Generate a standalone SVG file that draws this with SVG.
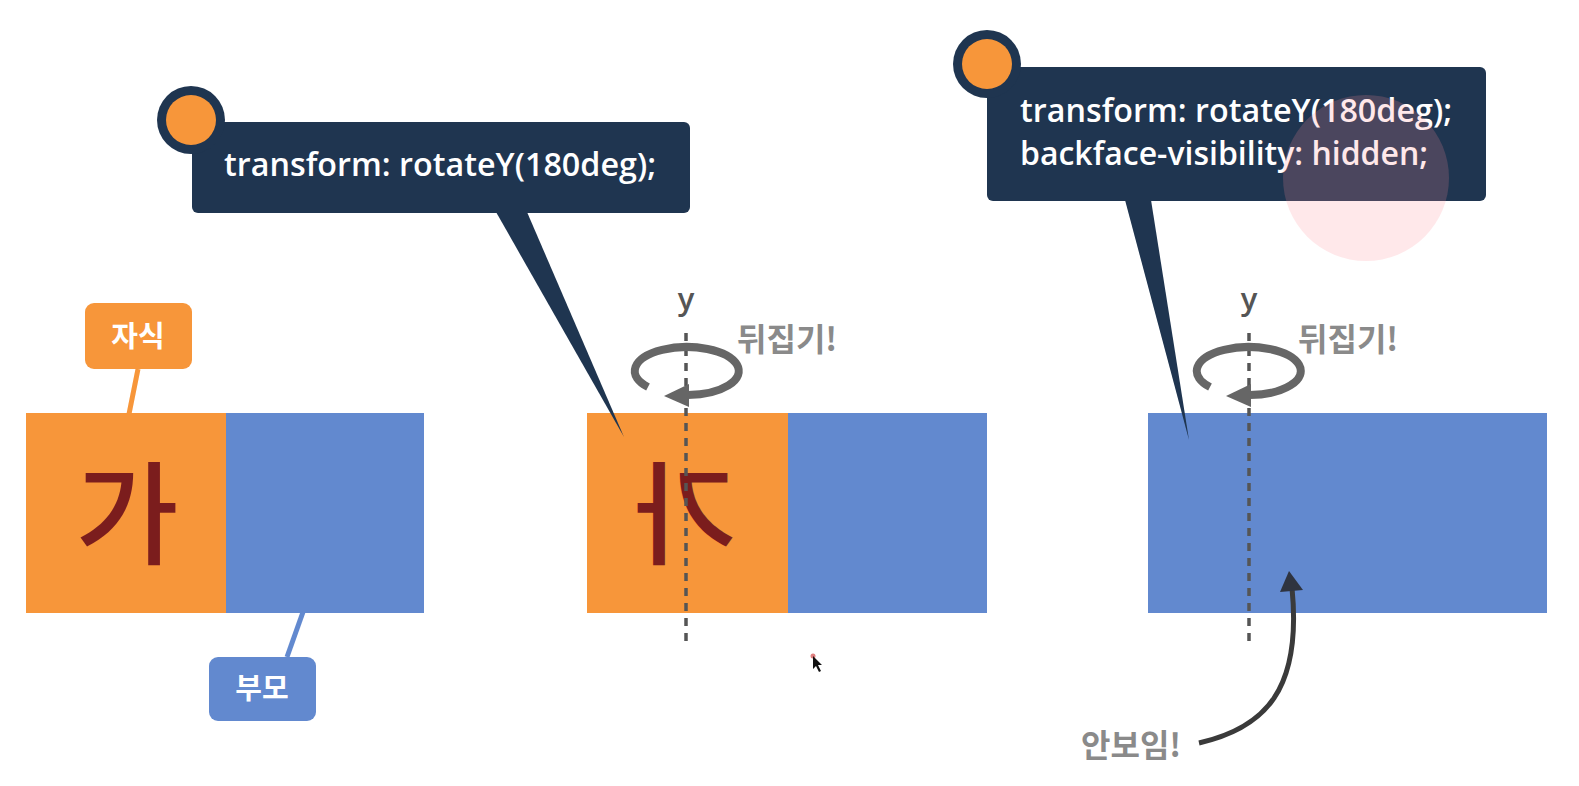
<svg xmlns="http://www.w3.org/2000/svg" width="1579" height="786" viewBox="0 0 1579 786">
<style>
.navy{fill:#1f3550}
.org{fill:#f7963a}
.blu{fill:#6289cf}
.code{font-family:"Open Sans","Noto Sans","DejaVu Sans",sans-serif;font-size:32px;font-weight:600;fill:#ffffff}
.kr{font-family:"Noto Sans CJK KR",sans-serif;font-weight:700}
.lbl{font-size:29px;fill:#ffffff;text-anchor:middle}
.flip{font-size:32px;fill:#8a8a8a}
.ga{font-size:112px;fill:#7b1d1d;text-anchor:middle;font-weight:500}
.axis{stroke:#555;stroke-width:3.5;stroke-dasharray:8 7;fill:none}
.ylab{font-family:"Open Sans","Noto Sans",sans-serif;font-size:31px;font-weight:600;fill:#555;text-anchor:middle}
.rot{fill:none;stroke:#666;stroke-width:8}
.rothead{fill:#666}
</style>
<rect width="1579" height="786" fill="#ffffff"/>

<!-- left panel -->
<g id="left-child">
  <rect x="26" y="413" width="200" height="200" class="org"/>
  <text x="127" y="556" class="kr ga">가</text>
</g>
<g id="left-parent">
  <rect x="226" y="413" width="198" height="200" class="blu"/>
</g>
<g id="label-child">
  <rect x="85" y="303" width="107" height="66" rx="9" class="org"/>
  <text x="138" y="347" class="kr lbl">자식</text>
</g>
<g id="label-parent">
  <rect x="209" y="657" width="107" height="64" rx="9" class="blu"/>
  <text x="262" y="699" class="kr lbl">부모</text>
</g>

<!-- middle panel -->
<g id="mid-child">
  <rect x="587" y="413" width="201" height="200" class="org"/>
  <text x="686" y="556" class="kr ga" transform="translate(1372 0) scale(-1 1)">가</text>
</g>
<g id="mid-parent">
  <rect x="788" y="413" width="199" height="200" class="blu"/>
</g>

<!-- right panel -->
<g id="right-parent">
  <rect x="1148" y="413" width="399" height="200" class="blu"/>
</g>

<!-- callouts -->
<g id="callout-left">
  <polygon points="496,212 527,212 624,437" class="navy"/>
  <rect x="192" y="122" width="498" height="91" rx="6" class="navy"/>
  <circle cx="191" cy="120" r="34" class="navy"/>
  <circle cx="191" cy="120" r="25" class="org"/>
  <text x="224" y="176" class="code" textLength="432" lengthAdjust="spacingAndGlyphs">transform: rotateY(180deg);</text>
</g>
<g id="callout-right">
  <polygon points="1125,200 1151,200 1189,440" class="navy"/>
  <rect x="987" y="67" width="499" height="134" rx="6" class="navy"/>
  <circle cx="987" cy="64" r="34" class="navy"/>
  <circle cx="987" cy="64" r="25" class="org"/>
  <text x="1020" y="122" class="code" textLength="432" lengthAdjust="spacingAndGlyphs">transform: rotateY(180deg);</text>
  <text x="1020" y="165" class="code" textLength="408" lengthAdjust="spacingAndGlyphs">backface-visibility: hidden;</text>
</g>
<circle id="click-highlight" cx="1366" cy="178" r="83" fill="#ff8a98" fill-opacity="0.2"/>

<!-- connectors -->
<g id="connectors">
  <line x1="138" y1="369" x2="129" y2="414" stroke="#f7963a" stroke-width="5"/>
  <line x1="287" y1="657" x2="303" y2="612" stroke="#6289cf" stroke-width="5"/>

  <line x1="686" y1="333" x2="686" y2="643" class="axis"/>
  <text x="686" y="310" class="ylab">y</text>
  <path d="M648,387 A52,24 0 1 1 688,395" class="rot"/>
  <polygon points="664,396 689,384 689,407" class="rothead"/>
  <text x="737" y="351" class="kr flip">뒤집기!</text>

  <line x1="1249" y1="333" x2="1249" y2="643" class="axis"/>
  <text x="1249" y="310" class="ylab">y</text>
  <path d="M1210,387 A52,24 0 1 1 1250,395" class="rot"/>
  <polygon points="1226,396 1251,384 1251,407" class="rothead"/>
  <text x="1298" y="351" class="kr flip">뒤집기!</text>

  <path d="M1199,743 C1265,728 1302,690 1292,588" fill="none" stroke="#3a3a3a" stroke-width="5"/>
  <polygon points="1289,571 1280,592 1303,590" fill="#2f3440"/>
  <text x="1081" y="757" class="kr flip">안보임!</text>
</g>

<!-- mouse cursor -->
<g id="cursor">
  <circle cx="813" cy="656" r="2.5" fill="#e08080"/>
  <polygon points="813,656 813,669 816,666 819,672 821,671 818,665 822,665" fill="#111"/>
</g>
</svg>
